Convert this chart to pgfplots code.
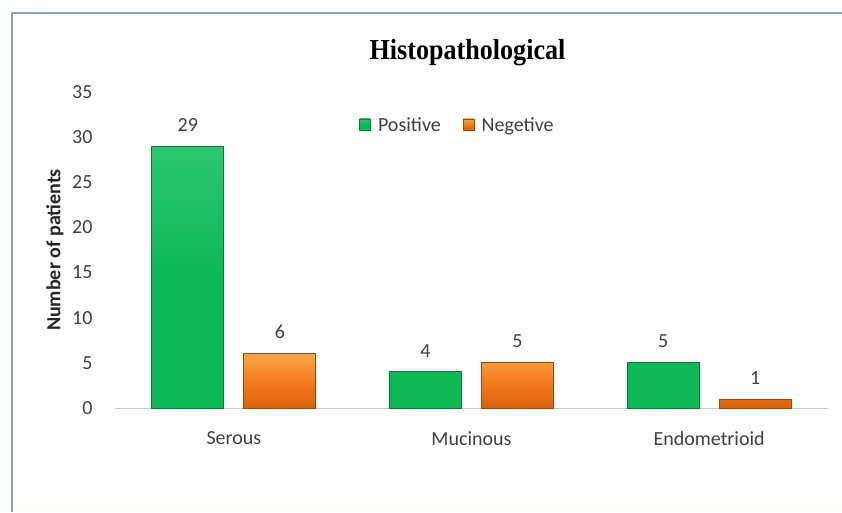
\documentclass[border=0pt]{standalone}
\usepackage{fontspec}
\setmainfont{Carlito}
\newfontfamily\titlefont{Liberation Serif}
\usepackage{pgfplots}
\pgfplotsset{compat=1.18}
\usepackage{pgfplotstable}

\definecolor{posfill}{HTML}{0DB856}
\definecolor{postop}{HTML}{2DC670}
\definecolor{posedge}{HTML}{0B7A3A}
\definecolor{negtop}{HTML}{F9A648}
\definecolor{negmid}{HTML}{F37C1E}
\definecolor{negbot}{HTML}{D9620E}
\definecolor{negedge}{HTML}{9C4A0C}
\definecolor{framecol}{HTML}{86A3C6}
\definecolor{ticktext}{HTML}{404040}

\pgfplotstableread{
idx pos neg
0   29  6
1   4   5
2   5   1
}\histdata

\begin{document}
\begin{tikzpicture}[x=1pt,y=1pt]
  % page area and frame
  \useasboundingbox (0,0) rectangle (842,512);
  \fill[white] (0,0) rectangle (842,512);
  \draw[framecol, line width=1.6pt] (12,0) -- (12,499) -- (842,499);
  \draw[yellow!12!white, line width=1pt] (13,4) -- (842,4);

  \begin{axis}[
    at={(115pt,104pt)}, anchor=south west,
    scale only axis,
    width=713pt, height=316pt,
    xmin=-0.5, xmax=2.5,
    ymin=0, ymax=35,
    ytick={0,5,...,35},
    xtick=data,
    xticklabels={Serous,Mucinous,Endometrioid},
    axis x line*=bottom,
    axis y line*=left,
    x axis line style={draw=gray!45, line width=1pt, -},
    y axis line style={draw=none},
    major tick length=0pt,
    /pgf/number format/assume math mode=true,
    ticklabel style={font=\fontsize{20}{23}\selectfont, text=ticktext},
    yticklabel style={xshift=-19pt},
    xticklabel style={yshift=-20pt},
    ylabel={\bfseries Number of patients},
    every axis y label/.style={at={(axis description cs:0,0.5)}, rotate=90, anchor=center,
      yshift=60pt, font=\fontsize{20}{23}\selectfont, text=black!85},
    title={\scalebox{0.9}[1]{\titlefont\bfseries Histopathological}},
    title style={font=\fontsize{29}{32}\selectfont, at={(axis description cs:0.5,1)}, anchor=center, yshift=33pt, xshift=-4pt},
    ybar=20pt,
    bar width=72pt,
    nodes near coords,
    nodes near coords style={font=\fontsize{20}{23}\selectfont, text=ticktext, yshift=11pt},
    legend columns=2,
    legend style={at={(axis description cs:0.338,0.8956)}, anchor=west, draw=none, fill=none,
      font=\fontsize{20}{23}\selectfont, text=ticktext,
      /tikz/every even column/.append style={column sep=20pt}},
    clip=false,
  ]
    \addplot[draw=posedge, line width=0.9pt, top color=postop, bottom color=posfill, middle color=posfill,
      legend image code/.code={\draw[draw=posedge, fill=posfill, line width=0.8pt] (0pt,-5pt) rectangle (11pt,6pt); \path (16pt,0pt);}]
      table[x=idx, y=pos] {\histdata};
    \addplot[draw=negedge, line width=0.9pt, top color=negtop, bottom color=negbot, middle color=negmid,
      legend image code/.code={\draw[draw=negedge, fill=negmid, line width=0.8pt] (0pt,-5pt) rectangle (11pt,6pt); \path (16pt,0pt);}]
      table[x=idx, y=neg] {\histdata};
    \legend{Positive, Negetive}
  \end{axis}
\end{tikzpicture}
\end{document}
